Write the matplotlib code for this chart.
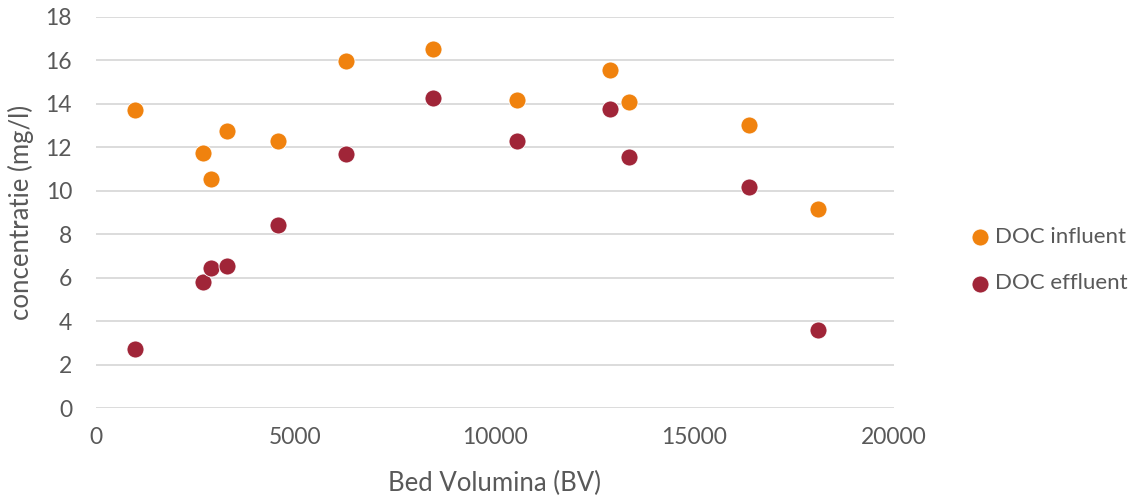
import numpy as np
import matplotlib.pyplot as plt

plt.rcParams['font.family'] = ['Lato', 'DejaVu Sans']

bed_volumes = [984, 2682, 2882, 3283, 4561, 6266, 8446, 10566, 12890, 13358, 16373, 18095]
doc_influent = [13.7, 11.72, 10.54, 12.73, 12.27, 15.96, 16.54, 14.16, 15.56, 14.07, 13.04, 9.16]
doc_effluent = [2.72, 5.8, 6.45, 6.54, 8.43, 11.67, 14.27, 12.27, 13.76, 11.57, 10.18, 3.58]

txt = '#595959'

fig = plt.figure(figsize=(11.31, 4.98), dpi=100)
ax = fig.add_axes([0.0846, 0.1807, 0.7059, 0.7853])

ax.scatter(bed_volumes, doc_influent, s=150, color='#f0820e', edgecolors='white',
           linewidths=0.6, zorder=3, label='DOC influent')
ax.scatter(bed_volumes, doc_effluent, s=150, color='#a02538', edgecolors='white',
           linewidths=0.6, zorder=3, label='DOC effluent')

ax.set_xlim(0, 20000)
ax.set_ylim(0, 18)
ax.set_xticks(np.arange(0, 20001, 5000))
ax.set_yticks(np.arange(0, 19, 2))
ax.grid(axis='y', color='#d9d9d9', linewidth=1.3)
ax.set_axisbelow(True)
for s in ax.spines.values():
    s.set_visible(False)
ax.tick_params(length=0, labelsize=16.5, labelcolor=txt)
ax.tick_params(axis='x', pad=14)
ax.tick_params(axis='y', pad=17)

ax.set_xlabel('Bed Volumina (BV)', fontsize=18.5, color=txt, labelpad=16)
ax.set_ylabel('concentratie (mg/l)', fontsize=18.5, color=txt, labelpad=8)

fig.legend(loc='center left', bbox_to_anchor=(958 / 1131, 1 - 260 / 498),
           bbox_transform=fig.transFigure, frameon=False, borderpad=0,
           fontsize=16, labelcolor=txt, handlelength=1.0, handletextpad=0.15,
           labelspacing=1.2)

fig.savefig('out.png', dpi=100)
